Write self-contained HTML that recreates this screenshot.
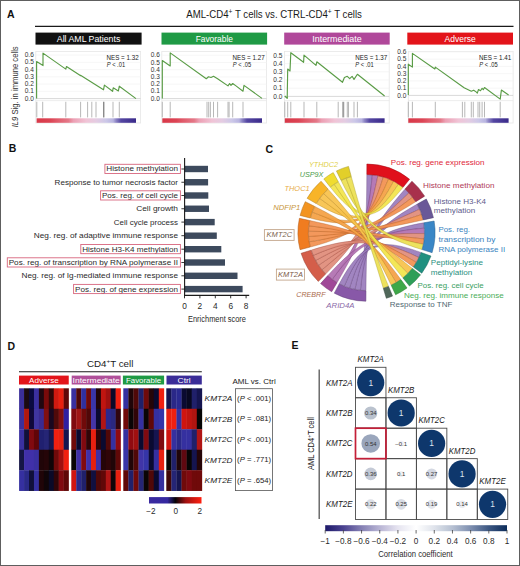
<!DOCTYPE html><html><head><meta charset="utf-8"><style>html,body{margin:0;padding:0;background:#fff;width:520px;height:566px;overflow:hidden;}svg{display:block;}text{font-family:"Liberation Sans", sans-serif;}</style></head><body><svg width="520" height="566" viewBox="0 0 520 566" font-family="Liberation Sans, sans-serif"><rect x="0.5" y="0.5" width="519" height="565" fill="none" stroke="#5e5e5e" stroke-width="1"/>
<text x="7.00" y="17.90" font-size="10.5" fill="#111" text-anchor="start" font-weight="bold" >A</text>
<text x="8.70" y="152.00" font-size="10.5" fill="#111" text-anchor="start" font-weight="bold" >B</text>
<text x="265.40" y="152.50" font-size="10.5" fill="#111" text-anchor="start" font-weight="bold" >C</text>
<text x="7.40" y="349.50" font-size="10.5" fill="#111" text-anchor="start" font-weight="bold" >D</text>
<text x="291.40" y="349.30" font-size="10.5" fill="#111" text-anchor="start" font-weight="bold" >E</text>
<text x="186.30" y="17.80" font-size="10.2" fill="#1a1a1a" text-anchor="start" textLength="175.60" lengthAdjust="spacingAndGlyphs" >AML-CD4<tspan font-size="7" dy="-4">+</tspan><tspan dy="4"> T cells vs. CTRL-CD4</tspan><tspan font-size="7" dy="-4">+</tspan><tspan dy="4"> T cells</tspan></text>
<line x1="35" y1="26.3" x2="513.5" y2="26.3" stroke="#1a1a1a" stroke-width="1.3"/>
<rect x="35.5" y="32.6" width="106.1" height="12" fill="#111111"/>
<text x="88.55" y="41.60" font-size="9.6" fill="#fff" text-anchor="middle" textLength="63.50" lengthAdjust="spacingAndGlyphs" >All AML Patients</text>
<rect x="161.5" y="32.6" width="105.6" height="12" fill="#1f9a45"/>
<text x="214.30" y="41.60" font-size="9.6" fill="#fff" text-anchor="middle" textLength="37.30" lengthAdjust="spacingAndGlyphs" >Favorable</text>
<rect x="284.2" y="32.6" width="105.5" height="12" fill="#b0489a"/>
<text x="336.95" y="41.60" font-size="9.6" fill="#fff" text-anchor="middle" textLength="49.40" lengthAdjust="spacingAndGlyphs" >Intermediate</text>
<rect x="407.3" y="32.6" width="105.7" height="12" fill="#e3141a"/>
<text x="460.15" y="41.60" font-size="9.6" fill="#fff" text-anchor="middle" textLength="31.20" lengthAdjust="spacingAndGlyphs" >Adverse</text>
<defs><linearGradient id="gcb" x1="0" x2="1" y1="0" y2="0"><stop offset="0" stop-color="#d83848"/><stop offset="0.14" stop-color="#dc4454"/><stop offset="0.2" stop-color="#e05868"/><stop offset="0.32" stop-color="#e47888"/><stop offset="0.37" stop-color="#eca0b4"/><stop offset="0.5" stop-color="#f0c4d6"/><stop offset="0.6" stop-color="#e4cce2"/><stop offset="0.7" stop-color="#ccc8e8"/><stop offset="0.77" stop-color="#b8b4e0"/><stop offset="0.8" stop-color="#8c84c4"/><stop offset="0.85" stop-color="#5446a2"/><stop offset="1" stop-color="#3a2a8a"/></linearGradient></defs>
<rect x="35.8" y="51.5" width="104.8" height="71.5" fill="none" stroke="#e6e6e6" stroke-width="0.8"/>
<line x1="35.8" y1="98.60" x2="140.6" y2="98.60" stroke="#c8c8c8" stroke-width="0.7"/>
<text x="33.80" y="100.70" font-size="7.1" fill="#333" text-anchor="end" textLength="9.10" lengthAdjust="spacingAndGlyphs" >0.0</text>
<line x1="35.8" y1="91.35" x2="140.6" y2="91.35" stroke="#f2f2f2" stroke-width="0.7"/>
<text x="33.80" y="93.45" font-size="7.1" fill="#333" text-anchor="end" textLength="9.10" lengthAdjust="spacingAndGlyphs" >0.1</text>
<line x1="35.8" y1="84.10" x2="140.6" y2="84.10" stroke="#f2f2f2" stroke-width="0.7"/>
<text x="33.80" y="86.20" font-size="7.1" fill="#333" text-anchor="end" textLength="9.10" lengthAdjust="spacingAndGlyphs" >0.2</text>
<line x1="35.8" y1="76.85" x2="140.6" y2="76.85" stroke="#f2f2f2" stroke-width="0.7"/>
<text x="33.80" y="78.95" font-size="7.1" fill="#333" text-anchor="end" textLength="9.10" lengthAdjust="spacingAndGlyphs" >0.3</text>
<line x1="35.8" y1="69.60" x2="140.6" y2="69.60" stroke="#f2f2f2" stroke-width="0.7"/>
<text x="33.80" y="71.70" font-size="7.1" fill="#333" text-anchor="end" textLength="9.10" lengthAdjust="spacingAndGlyphs" >0.4</text>
<line x1="35.8" y1="62.35" x2="140.6" y2="62.35" stroke="#f2f2f2" stroke-width="0.7"/>
<text x="33.80" y="64.45" font-size="7.1" fill="#333" text-anchor="end" textLength="9.10" lengthAdjust="spacingAndGlyphs" >0.5</text>
<line x1="35.8" y1="55.10" x2="140.6" y2="55.10" stroke="#f2f2f2" stroke-width="0.7"/>
<text x="33.80" y="57.20" font-size="7.1" fill="#333" text-anchor="end" textLength="9.10" lengthAdjust="spacingAndGlyphs" >0.6</text>
<line x1="35.8" y1="100.6" x2="140.6" y2="100.6" stroke="#e6e6e6" stroke-width="0.7"/>
<line x1="36.8" y1="101.8" x2="36.8" y2="117.4" stroke="#9a9a9a" stroke-width="0.7"/>
<line x1="42.7" y1="101.8" x2="42.7" y2="117.4" stroke="#9a9a9a" stroke-width="0.7"/>
<line x1="65.8" y1="101.8" x2="65.8" y2="117.4" stroke="#9a9a9a" stroke-width="0.7"/>
<line x1="80.6" y1="101.8" x2="80.6" y2="117.4" stroke="#9a9a9a" stroke-width="0.7"/>
<line x1="87.6" y1="101.8" x2="87.6" y2="117.4" stroke="#9a9a9a" stroke-width="0.7"/>
<line x1="91.8" y1="101.8" x2="91.8" y2="117.4" stroke="#9a9a9a" stroke-width="0.7"/>
<line x1="96" y1="101.8" x2="96" y2="117.4" stroke="#9a9a9a" stroke-width="0.7"/>
<line x1="103.5" y1="101.8" x2="103.5" y2="117.4" stroke="#555" stroke-width="0.7"/>
<line x1="104.2" y1="101.8" x2="104.2" y2="117.4" stroke="#9a9a9a" stroke-width="0.7"/>
<line x1="113" y1="101.8" x2="113" y2="117.4" stroke="#9a9a9a" stroke-width="0.7"/>
<line x1="119.3" y1="101.8" x2="119.3" y2="117.4" stroke="#9a9a9a" stroke-width="0.7"/>
<rect x="36.6" y="118.3" width="99.4" height="4.5" fill="url(#gcb)"/>
<path d="M36.60,98.50 L36.60,61.60 L43.00,65.60 L43.00,53.10 L65.80,69.10 L66.50,66.50 L80.30,75.60 L80.90,75.40 L103.50,89.80 L104.40,85.10 L112.60,91.30 L113.20,87.80 L118.40,90.90 L119.30,86.20 L136.00,98.60" fill="none" stroke="#5a9c46" stroke-width="1.15" stroke-linejoin="round"/>
<text x="106.60" y="59.50" font-size="6.9" fill="#222" text-anchor="start" textLength="32.00" lengthAdjust="spacingAndGlyphs" >NES = 1.32</text>
<text x="106.70" y="67.10" font-size="7.0" fill="#222" text-anchor="start" textLength="18.40" lengthAdjust="spacingAndGlyphs" ><tspan font-style="italic">P</tspan> &lt; .01</text>
<rect x="161.8" y="51.5" width="104.8" height="71.5" fill="none" stroke="#e6e6e6" stroke-width="0.8"/>
<line x1="161.8" y1="98.60" x2="266.6" y2="98.60" stroke="#c8c8c8" stroke-width="0.7"/>
<text x="159.80" y="100.70" font-size="7.1" fill="#333" text-anchor="end" textLength="9.10" lengthAdjust="spacingAndGlyphs" >0.0</text>
<line x1="161.8" y1="91.38" x2="266.6" y2="91.38" stroke="#f2f2f2" stroke-width="0.7"/>
<text x="159.80" y="93.48" font-size="7.1" fill="#333" text-anchor="end" textLength="9.10" lengthAdjust="spacingAndGlyphs" >0.1</text>
<line x1="161.8" y1="84.16" x2="266.6" y2="84.16" stroke="#f2f2f2" stroke-width="0.7"/>
<text x="159.80" y="86.26" font-size="7.1" fill="#333" text-anchor="end" textLength="9.10" lengthAdjust="spacingAndGlyphs" >0.2</text>
<line x1="161.8" y1="76.94" x2="266.6" y2="76.94" stroke="#f2f2f2" stroke-width="0.7"/>
<text x="159.80" y="79.04" font-size="7.1" fill="#333" text-anchor="end" textLength="9.10" lengthAdjust="spacingAndGlyphs" >0.3</text>
<line x1="161.8" y1="69.72" x2="266.6" y2="69.72" stroke="#f2f2f2" stroke-width="0.7"/>
<text x="159.80" y="71.82" font-size="7.1" fill="#333" text-anchor="end" textLength="9.10" lengthAdjust="spacingAndGlyphs" >0.4</text>
<line x1="161.8" y1="62.50" x2="266.6" y2="62.50" stroke="#f2f2f2" stroke-width="0.7"/>
<text x="159.80" y="64.60" font-size="7.1" fill="#333" text-anchor="end" textLength="9.10" lengthAdjust="spacingAndGlyphs" >0.5</text>
<line x1="161.8" y1="55.28" x2="266.6" y2="55.28" stroke="#f2f2f2" stroke-width="0.7"/>
<text x="159.80" y="57.38" font-size="7.1" fill="#333" text-anchor="end" textLength="9.10" lengthAdjust="spacingAndGlyphs" >0.6</text>
<line x1="161.8" y1="100.6" x2="266.6" y2="100.6" stroke="#e6e6e6" stroke-width="0.7"/>
<line x1="162.3" y1="101.8" x2="162.3" y2="117.4" stroke="#9a9a9a" stroke-width="0.7"/>
<line x1="170.2" y1="101.8" x2="170.2" y2="117.4" stroke="#9a9a9a" stroke-width="0.7"/>
<line x1="207" y1="101.8" x2="207" y2="117.4" stroke="#9a9a9a" stroke-width="0.7"/>
<line x1="208.7" y1="101.8" x2="208.7" y2="117.4" stroke="#9a9a9a" stroke-width="0.7"/>
<line x1="210.4" y1="101.8" x2="210.4" y2="117.4" stroke="#9a9a9a" stroke-width="0.7"/>
<line x1="213.5" y1="101.8" x2="213.5" y2="117.4" stroke="#9a9a9a" stroke-width="0.7"/>
<line x1="217.6" y1="101.8" x2="217.6" y2="117.4" stroke="#9a9a9a" stroke-width="0.7"/>
<line x1="228" y1="101.8" x2="228" y2="117.4" stroke="#9a9a9a" stroke-width="0.7"/>
<line x1="229.1" y1="101.8" x2="229.1" y2="117.4" stroke="#9a9a9a" stroke-width="0.7"/>
<line x1="232.7" y1="101.8" x2="232.7" y2="117.4" stroke="#9a9a9a" stroke-width="0.7"/>
<line x1="243" y1="101.8" x2="243" y2="117.4" stroke="#9a9a9a" stroke-width="0.7"/>
<rect x="162.3" y="118.3" width="99.7" height="4.5" fill="url(#gcb)"/>
<path d="M162.30,98.40 L162.30,60.60 L170.20,65.90 L170.20,52.90 L206.30,78.70 L208.50,76.80 L211.00,77.50 L213.50,76.30 L217.60,78.70 L228.00,85.90 L229.60,83.50 L231.00,85.40 L232.70,83.50 L236.00,85.90 L243.00,91.20 L244.00,85.40 L262.00,98.40" fill="none" stroke="#5a9c46" stroke-width="1.15" stroke-linejoin="round"/>
<text x="232.60" y="59.50" font-size="6.9" fill="#222" text-anchor="start" textLength="32.00" lengthAdjust="spacingAndGlyphs" >NES = 1.27</text>
<text x="232.70" y="67.10" font-size="7.0" fill="#222" text-anchor="start" textLength="18.40" lengthAdjust="spacingAndGlyphs" ><tspan font-style="italic">P</tspan> &lt; .05</text>
<rect x="284.4" y="51.5" width="104.8" height="71.5" fill="none" stroke="#e6e6e6" stroke-width="0.8"/>
<line x1="284.4" y1="96.40" x2="389.2" y2="96.40" stroke="#c8c8c8" stroke-width="0.7"/>
<text x="282.40" y="98.50" font-size="7.1" fill="#333" text-anchor="end" textLength="9.10" lengthAdjust="spacingAndGlyphs" >0.0</text>
<line x1="284.4" y1="88.20" x2="389.2" y2="88.20" stroke="#f2f2f2" stroke-width="0.7"/>
<text x="282.40" y="90.30" font-size="7.1" fill="#333" text-anchor="end" textLength="9.10" lengthAdjust="spacingAndGlyphs" >0.1</text>
<line x1="284.4" y1="80.00" x2="389.2" y2="80.00" stroke="#f2f2f2" stroke-width="0.7"/>
<text x="282.40" y="82.10" font-size="7.1" fill="#333" text-anchor="end" textLength="9.10" lengthAdjust="spacingAndGlyphs" >0.2</text>
<line x1="284.4" y1="71.80" x2="389.2" y2="71.80" stroke="#f2f2f2" stroke-width="0.7"/>
<text x="282.40" y="73.90" font-size="7.1" fill="#333" text-anchor="end" textLength="9.10" lengthAdjust="spacingAndGlyphs" >0.3</text>
<line x1="284.4" y1="63.60" x2="389.2" y2="63.60" stroke="#f2f2f2" stroke-width="0.7"/>
<text x="282.40" y="65.70" font-size="7.1" fill="#333" text-anchor="end" textLength="9.10" lengthAdjust="spacingAndGlyphs" >0.4</text>
<line x1="284.4" y1="55.40" x2="389.2" y2="55.40" stroke="#f2f2f2" stroke-width="0.7"/>
<text x="282.40" y="57.50" font-size="7.1" fill="#333" text-anchor="end" textLength="9.10" lengthAdjust="spacingAndGlyphs" >0.5</text>
<line x1="284.4" y1="100.6" x2="389.2" y2="100.6" stroke="#e6e6e6" stroke-width="0.7"/>
<line x1="284.8" y1="101.8" x2="284.8" y2="117.4" stroke="#9a9a9a" stroke-width="0.7"/>
<line x1="287.7" y1="101.8" x2="287.7" y2="117.4" stroke="#9a9a9a" stroke-width="0.7"/>
<line x1="290.8" y1="101.8" x2="290.8" y2="117.4" stroke="#9a9a9a" stroke-width="0.7"/>
<line x1="304" y1="101.8" x2="304" y2="117.4" stroke="#9a9a9a" stroke-width="0.7"/>
<line x1="316.8" y1="101.8" x2="316.8" y2="117.4" stroke="#9a9a9a" stroke-width="0.7"/>
<line x1="338.2" y1="101.8" x2="338.2" y2="117.4" stroke="#9a9a9a" stroke-width="0.7"/>
<line x1="342.5" y1="101.8" x2="342.5" y2="117.4" stroke="#9a9a9a" stroke-width="0.7"/>
<line x1="343.7" y1="101.8" x2="343.7" y2="117.4" stroke="#555" stroke-width="0.7"/>
<line x1="347.3" y1="101.8" x2="347.3" y2="117.4" stroke="#9a9a9a" stroke-width="0.7"/>
<line x1="348.5" y1="101.8" x2="348.5" y2="117.4" stroke="#9a9a9a" stroke-width="0.7"/>
<line x1="354" y1="101.8" x2="354" y2="117.4" stroke="#9a9a9a" stroke-width="0.7"/>
<line x1="357.4" y1="101.8" x2="357.4" y2="117.4" stroke="#9a9a9a" stroke-width="0.7"/>
<rect x="284.8" y="118.3" width="99.8" height="4.5" fill="url(#gcb)"/>
<path d="M284.80,96.00 L287.20,98.40 L287.70,69.00 L290.00,71.00 L290.80,52.70 L303.60,62.30 L304.00,55.10 L316.00,65.40 L316.80,61.80 L342.50,82.30 L344.40,77.50 L347.30,76.30 L349.70,78.70 L352.10,76.30 L354.00,79.40 L357.40,74.30 L384.60,96.00" fill="none" stroke="#5a9c46" stroke-width="1.15" stroke-linejoin="round"/>
<text x="355.20" y="59.50" font-size="6.9" fill="#222" text-anchor="start" textLength="32.00" lengthAdjust="spacingAndGlyphs" >NES = 1.37</text>
<text x="355.30" y="67.10" font-size="7.0" fill="#222" text-anchor="start" textLength="18.40" lengthAdjust="spacingAndGlyphs" ><tspan font-style="italic">P</tspan> &lt; .01</text>
<rect x="408.3" y="51.5" width="104.8" height="71.5" fill="none" stroke="#e6e6e6" stroke-width="0.8"/>
<line x1="408.3" y1="95.40" x2="513.1" y2="95.40" stroke="#c8c8c8" stroke-width="0.7"/>
<text x="406.30" y="97.50" font-size="7.1" fill="#333" text-anchor="end" textLength="9.10" lengthAdjust="spacingAndGlyphs" >0.0</text>
<line x1="408.3" y1="88.15" x2="513.1" y2="88.15" stroke="#f2f2f2" stroke-width="0.7"/>
<text x="406.30" y="90.25" font-size="7.1" fill="#333" text-anchor="end" textLength="9.10" lengthAdjust="spacingAndGlyphs" >0.1</text>
<line x1="408.3" y1="80.90" x2="513.1" y2="80.90" stroke="#f2f2f2" stroke-width="0.7"/>
<text x="406.30" y="83.00" font-size="7.1" fill="#333" text-anchor="end" textLength="9.10" lengthAdjust="spacingAndGlyphs" >0.2</text>
<line x1="408.3" y1="73.65" x2="513.1" y2="73.65" stroke="#f2f2f2" stroke-width="0.7"/>
<text x="406.30" y="75.75" font-size="7.1" fill="#333" text-anchor="end" textLength="9.10" lengthAdjust="spacingAndGlyphs" >0.3</text>
<line x1="408.3" y1="66.40" x2="513.1" y2="66.40" stroke="#f2f2f2" stroke-width="0.7"/>
<text x="406.30" y="68.50" font-size="7.1" fill="#333" text-anchor="end" textLength="9.10" lengthAdjust="spacingAndGlyphs" >0.4</text>
<line x1="408.3" y1="59.15" x2="513.1" y2="59.15" stroke="#f2f2f2" stroke-width="0.7"/>
<text x="406.30" y="61.25" font-size="7.1" fill="#333" text-anchor="end" textLength="9.10" lengthAdjust="spacingAndGlyphs" >0.5</text>
<line x1="408.3" y1="51.90" x2="513.1" y2="51.90" stroke="#f2f2f2" stroke-width="0.7"/>
<text x="406.30" y="54.00" font-size="7.1" fill="#333" text-anchor="end" textLength="9.10" lengthAdjust="spacingAndGlyphs" >0.6</text>
<line x1="408.3" y1="100.6" x2="513.1" y2="100.6" stroke="#e6e6e6" stroke-width="0.7"/>
<line x1="408.3" y1="101.8" x2="408.3" y2="117.4" stroke="#9a9a9a" stroke-width="0.7"/>
<line x1="412.4" y1="101.8" x2="412.4" y2="117.4" stroke="#9a9a9a" stroke-width="0.7"/>
<line x1="435.3" y1="101.8" x2="435.3" y2="117.4" stroke="#9a9a9a" stroke-width="0.7"/>
<line x1="462.4" y1="101.8" x2="462.4" y2="117.4" stroke="#9a9a9a" stroke-width="0.7"/>
<line x1="464.8" y1="101.8" x2="464.8" y2="117.4" stroke="#9a9a9a" stroke-width="0.7"/>
<line x1="471.3" y1="101.8" x2="471.3" y2="117.4" stroke="#9a9a9a" stroke-width="0.7"/>
<line x1="473.3" y1="101.8" x2="473.3" y2="117.4" stroke="#9a9a9a" stroke-width="0.7"/>
<line x1="478" y1="101.8" x2="478" y2="117.4" stroke="#9a9a9a" stroke-width="0.7"/>
<line x1="479.7" y1="101.8" x2="479.7" y2="117.4" stroke="#9a9a9a" stroke-width="0.7"/>
<line x1="482.1" y1="101.8" x2="482.1" y2="117.4" stroke="#9a9a9a" stroke-width="0.7"/>
<line x1="484.5" y1="101.8" x2="484.5" y2="117.4" stroke="#9a9a9a" stroke-width="0.7"/>
<line x1="500.2" y1="101.8" x2="500.2" y2="117.4" stroke="#9a9a9a" stroke-width="0.7"/>
<rect x="408.3" y="118.3" width="100.3" height="4.5" fill="url(#gcb)"/>
<path d="M408.30,95.00 L408.30,64.20 L412.40,67.10 L412.40,53.40 L434.80,69.00 L435.30,67.10 L464.10,87.80 L471.30,91.20 L473.70,90.20 L476.10,91.90 L477.30,93.10 L478.50,89.50 L480.50,90.70 L482.10,88.30 L483.30,89.70 L484.50,87.50 L500.20,99.10 L501.40,90.00 L508.60,95.00" fill="none" stroke="#5a9c46" stroke-width="1.15" stroke-linejoin="round"/>
<text x="479.10" y="59.50" font-size="6.9" fill="#222" text-anchor="start" textLength="32.00" lengthAdjust="spacingAndGlyphs" >NES = 1.41</text>
<text x="479.20" y="67.10" font-size="7.0" fill="#222" text-anchor="start" textLength="18.40" lengthAdjust="spacingAndGlyphs" ><tspan font-style="italic">P</tspan> &lt; .05</text>
<text transform="translate(18.4,86.8) rotate(-90)" font-size="8.2" fill="#333" text-anchor="middle" textLength="81" lengthAdjust="spacingAndGlyphs"><tspan font-style="italic">IL9</tspan> Sig. in immune cells</text>
<rect x="184.6" y="165.8" width="23.40" height="6.4" fill="#3d4a5d"/>
<line x1="181.4" y1="169.00" x2="184.6" y2="169.00" stroke="#222" stroke-width="0.9"/>
<text x="178.00" y="171.40" font-size="7.8" fill="#2a2a2a" text-anchor="end" textLength="71.70" lengthAdjust="spacingAndGlyphs" >Histone methylation</text>
<rect x="104.90" y="164.30" width="75.50" height="9.2" fill="none" stroke="#d8667e" stroke-width="0.9"/>
<rect x="184.6" y="179.05" width="23.50" height="6.4" fill="#3d4a5d"/>
<line x1="181.4" y1="182.25" x2="184.6" y2="182.25" stroke="#222" stroke-width="0.9"/>
<text x="178.00" y="184.65" font-size="7.8" fill="#2a2a2a" text-anchor="end" textLength="123.40" lengthAdjust="spacingAndGlyphs" >Response to tumor necrosis factor</text>
<rect x="184.6" y="192.3" width="23.70" height="6.4" fill="#3d4a5d"/>
<line x1="181.4" y1="195.50" x2="184.6" y2="195.50" stroke="#222" stroke-width="0.9"/>
<text x="178.00" y="197.90" font-size="7.8" fill="#2a2a2a" text-anchor="end" textLength="76.00" lengthAdjust="spacingAndGlyphs" >Pos. reg. of cell cycle</text>
<rect x="100.60" y="190.80" width="79.80" height="9.2" fill="none" stroke="#d8667e" stroke-width="0.9"/>
<rect x="184.6" y="205.55" width="24.40" height="6.4" fill="#3d4a5d"/>
<line x1="181.4" y1="208.75" x2="184.6" y2="208.75" stroke="#222" stroke-width="0.9"/>
<text x="178.00" y="211.15" font-size="7.8" fill="#2a2a2a" text-anchor="end" textLength="41.80" lengthAdjust="spacingAndGlyphs" >Cell growth</text>
<rect x="184.6" y="218.9" width="30.10" height="6.4" fill="#3d4a5d"/>
<line x1="181.4" y1="222.10" x2="184.6" y2="222.10" stroke="#222" stroke-width="0.9"/>
<text x="178.00" y="224.50" font-size="7.8" fill="#2a2a2a" text-anchor="end" textLength="64.20" lengthAdjust="spacingAndGlyphs" >Cell cycle process</text>
<rect x="184.6" y="232.5" width="32.20" height="6.4" fill="#3d4a5d"/>
<line x1="181.4" y1="235.70" x2="184.6" y2="235.70" stroke="#222" stroke-width="0.9"/>
<text x="178.00" y="238.10" font-size="7.8" fill="#2a2a2a" text-anchor="end" textLength="144.20" lengthAdjust="spacingAndGlyphs" >Neg. reg. of adaptive immune response</text>
<rect x="184.6" y="246.0" width="36.70" height="6.4" fill="#3d4a5d"/>
<line x1="181.4" y1="249.20" x2="184.6" y2="249.20" stroke="#222" stroke-width="0.9"/>
<text x="178.00" y="251.60" font-size="7.8" fill="#2a2a2a" text-anchor="end" textLength="95.80" lengthAdjust="spacingAndGlyphs" >Histone H3-K4 methylation</text>
<rect x="80.80" y="244.50" width="99.60" height="9.2" fill="none" stroke="#d8667e" stroke-width="0.9"/>
<rect x="184.6" y="259.3" width="40.40" height="6.4" fill="#3d4a5d"/>
<line x1="181.4" y1="262.50" x2="184.6" y2="262.50" stroke="#222" stroke-width="0.9"/>
<text x="178.00" y="264.90" font-size="7.8" fill="#2a2a2a" text-anchor="end" textLength="169.30" lengthAdjust="spacingAndGlyphs" >Pos. reg. of transcription by RNA polymerase II</text>
<rect x="7.30" y="257.80" width="173.10" height="9.2" fill="none" stroke="#d8667e" stroke-width="0.9"/>
<rect x="184.6" y="272.6" width="52.90" height="6.4" fill="#3d4a5d"/>
<line x1="181.4" y1="275.80" x2="184.6" y2="275.80" stroke="#222" stroke-width="0.9"/>
<text x="178.00" y="278.20" font-size="7.8" fill="#2a2a2a" text-anchor="end" textLength="156.50" lengthAdjust="spacingAndGlyphs" >Neg. reg. of Ig-mediated immune response</text>
<rect x="184.6" y="285.9" width="58.00" height="6.4" fill="#3d4a5d"/>
<line x1="181.4" y1="289.10" x2="184.6" y2="289.10" stroke="#222" stroke-width="0.9"/>
<text x="178.00" y="291.50" font-size="7.8" fill="#2a2a2a" text-anchor="end" textLength="103.00" lengthAdjust="spacingAndGlyphs" >Pos. reg. of gene expression</text>
<rect x="73.60" y="284.40" width="106.80" height="9.2" fill="none" stroke="#d8667e" stroke-width="0.9"/>
<line x1="184.6" y1="158" x2="184.6" y2="296" stroke="#1a1a1a" stroke-width="1.1"/>
<line x1="184.6" y1="295.4" x2="249.2" y2="295.4" stroke="#1a1a1a" stroke-width="1.1"/>
<line x1="184.5" y1="295.4" x2="184.5" y2="298.3" stroke="#1a1a1a" stroke-width="0.9"/>
<text x="184.50" y="308.80" font-size="8.3" fill="#2a2a2a" text-anchor="middle" >0</text>
<line x1="199.9" y1="295.4" x2="199.9" y2="298.3" stroke="#1a1a1a" stroke-width="0.9"/>
<text x="199.90" y="308.80" font-size="8.3" fill="#2a2a2a" text-anchor="middle" >2</text>
<line x1="215.3" y1="295.4" x2="215.3" y2="298.3" stroke="#1a1a1a" stroke-width="0.9"/>
<text x="215.30" y="308.80" font-size="8.3" fill="#2a2a2a" text-anchor="middle" >4</text>
<line x1="230.7" y1="295.4" x2="230.7" y2="298.3" stroke="#1a1a1a" stroke-width="0.9"/>
<text x="230.70" y="308.80" font-size="8.3" fill="#2a2a2a" text-anchor="middle" >6</text>
<line x1="246.1" y1="295.4" x2="246.1" y2="298.3" stroke="#1a1a1a" stroke-width="0.9"/>
<text x="246.10" y="308.80" font-size="8.3" fill="#2a2a2a" text-anchor="middle" >8</text>
<text x="217.00" y="321.80" font-size="8.3" fill="#2a2a2a" text-anchor="middle" textLength="58.00" lengthAdjust="spacingAndGlyphs" >Enrichment score</text>
<path d="M365.99,290.50 A57.90,57.90 0 0 1 360.45,290.18 C365.29,244.12 366.56,221.02 366.80,174.70 A57.90,57.90 0 0 1 372.37,175.00 C367.67,221.08 366.40,244.18 365.99,290.50 Z" fill="#9a7cbc" fill-opacity="0.93" stroke="#5c3b72" stroke-width="0.4" stroke-opacity="0.85"/>
<path d="M360.45,290.18 A57.90,57.90 0 0 1 354.96,289.34 C364.19,243.95 374.17,223.93 404.87,189.24 A57.90,57.90 0 0 1 408.82,193.09 C374.96,224.70 365.29,244.12 360.45,290.18 Z" fill="#9a7cbc" fill-opacity="0.93" stroke="#5c3b72" stroke-width="0.4" stroke-opacity="0.85"/>
<path d="M354.96,289.34 A57.90,57.90 0 0 1 349.57,287.97 C363.11,243.67 376.60,226.93 416.99,204.26 A57.90,57.90 0 0 1 419.50,209.30 C377.10,227.94 364.19,243.95 354.96,289.34 Z" fill="#9a7cbc" fill-opacity="0.93" stroke="#5c3b72" stroke-width="0.4" stroke-opacity="0.85"/>
<path d="M349.57,287.97 A57.90,57.90 0 0 1 344.34,286.09 C362.07,243.30 377.91,230.65 423.57,222.84 A57.90,57.90 0 0 1 424.23,228.20 C378.05,231.72 363.11,243.67 349.57,287.97 Z" fill="#9a7cbc" fill-opacity="0.93" stroke="#5c3b72" stroke-width="0.4" stroke-opacity="0.85"/>
<path d="M344.34,286.09 A57.90,57.90 0 0 1 339.32,283.72 C361.06,242.82 377.38,236.56 420.91,252.40 A57.90,57.90 0 0 1 418.79,257.47 C376.96,237.57 362.07,243.30 344.34,286.09 Z" fill="#9a7cbc" fill-opacity="0.93" stroke="#5c3b72" stroke-width="0.4" stroke-opacity="0.85"/>
<path d="M337.11,282.49 A57.90,57.90 0 0 1 332.26,279.29 C359.65,241.94 367.67,221.08 372.37,175.00 A57.90,57.90 0 0 1 377.87,175.83 C368.77,221.25 360.62,242.58 337.11,282.49 Z" fill="#b070b0" fill-opacity="0.93" stroke="#6c3067" stroke-width="0.4" stroke-opacity="0.85"/>
<path d="M332.26,279.29 A57.90,57.90 0 0 1 327.76,275.63 C358.75,241.21 378.05,231.72 424.23,228.20 A57.90,57.90 0 0 1 424.39,233.59 C378.08,232.80 359.65,241.94 332.26,279.29 Z" fill="#b070b0" fill-opacity="0.93" stroke="#6c3067" stroke-width="0.4" stroke-opacity="0.85"/>
<path d="M325.85,273.83 A57.90,57.90 0 0 1 322.04,269.69 C357.61,240.02 368.77,221.25 377.87,175.83 A57.90,57.90 0 0 1 383.28,177.18 C369.86,221.52 358.37,240.85 325.85,273.83 Z" fill="#e08c7a" fill-opacity="0.93" stroke="#903f32" stroke-width="0.4" stroke-opacity="0.85"/>
<path d="M322.04,269.69 A57.90,57.90 0 0 1 318.66,265.21 C356.93,239.12 374.96,224.70 408.82,193.09 A57.90,57.90 0 0 1 412.39,197.30 C375.68,225.54 357.61,240.02 322.04,269.69 Z" fill="#e08c7a" fill-opacity="0.93" stroke="#903f32" stroke-width="0.4" stroke-opacity="0.85"/>
<path d="M318.66,265.21 A57.90,57.90 0 0 1 315.72,260.42 C356.34,238.16 377.10,227.94 419.50,209.30 A57.90,57.90 0 0 1 421.51,214.55 C377.50,228.99 356.93,239.12 318.66,265.21 Z" fill="#e08c7a" fill-opacity="0.93" stroke="#903f32" stroke-width="0.4" stroke-opacity="0.85"/>
<path d="M315.72,260.42 A57.90,57.90 0 0 1 313.27,255.37 C355.85,237.15 378.08,232.80 424.39,233.59 A57.90,57.90 0 0 1 424.05,238.97 C378.01,233.87 356.34,238.16 315.72,260.42 Z" fill="#e08c7a" fill-opacity="0.93" stroke="#903f32" stroke-width="0.4" stroke-opacity="0.85"/>
<path d="M313.27,255.37 A57.90,57.90 0 0 1 311.31,250.11 C355.46,236.10 376.96,237.57 418.79,257.47 A57.90,57.90 0 0 1 416.20,262.31 C376.44,238.54 355.85,237.15 313.27,255.37 Z" fill="#e08c7a" fill-opacity="0.93" stroke="#903f32" stroke-width="0.4" stroke-opacity="0.85"/>
<path d="M310.42,247.00 A57.90,57.90 0 0 1 309.33,241.78 C355.07,234.44 369.86,221.52 383.28,177.18 A57.90,57.90 0 0 1 388.52,179.05 C370.90,221.89 355.28,235.48 310.42,247.00 Z" fill="#f29050" fill-opacity="0.93" stroke="#a35415" stroke-width="0.4" stroke-opacity="0.85"/>
<path d="M309.33,241.78 A57.90,57.90 0 0 1 308.73,236.48 C354.95,233.38 375.68,225.54 412.39,197.30 A57.90,57.90 0 0 1 415.55,201.83 C376.31,226.45 355.07,234.44 309.33,241.78 Z" fill="#f29050" fill-opacity="0.93" stroke="#a35415" stroke-width="0.4" stroke-opacity="0.85"/>
<path d="M308.73,236.48 A57.90,57.90 0 0 1 308.62,231.14 C354.92,232.31 377.50,228.99 421.51,214.55 A57.90,57.90 0 0 1 423.01,219.97 C377.80,230.07 354.95,233.38 308.73,236.48 Z" fill="#f29050" fill-opacity="0.93" stroke="#a35415" stroke-width="0.4" stroke-opacity="0.85"/>
<path d="M308.62,231.14 A57.90,57.90 0 0 1 309.00,225.82 C355.00,231.24 378.01,233.87 424.05,238.97 A57.90,57.90 0 0 1 423.21,244.30 C377.84,234.94 354.92,232.31 308.62,231.14 Z" fill="#f29050" fill-opacity="0.93" stroke="#a35415" stroke-width="0.4" stroke-opacity="0.85"/>
<path d="M309.00,225.82 A57.90,57.90 0 0 1 309.87,220.56 C355.17,230.19 376.44,238.54 416.20,262.31 A57.90,57.90 0 0 1 413.16,266.88 C375.83,239.46 355.00,231.24 309.00,225.82 Z" fill="#f29050" fill-opacity="0.93" stroke="#a35415" stroke-width="0.4" stroke-opacity="0.85"/>
<path d="M310.44,218.10 A57.90,57.90 0 0 1 312.32,212.18 C355.66,228.52 370.90,221.89 388.52,179.05 A57.90,57.90 0 0 1 393.57,181.42 C371.91,222.36 355.29,229.70 310.44,218.10 Z" fill="#f4a044" fill-opacity="0.93" stroke="#a56415" stroke-width="0.4" stroke-opacity="0.85"/>
<path d="M312.32,212.18 A57.90,57.90 0 0 1 314.82,206.49 C356.16,227.38 373.34,241.94 400.70,279.32 A57.90,57.90 0 0 1 396.02,282.41 C372.40,242.56 355.66,228.52 312.32,212.18 Z" fill="#f4a044" fill-opacity="0.93" stroke="#a56415" stroke-width="0.4" stroke-opacity="0.85"/>
<path d="M316.36,203.65 A57.90,57.90 0 0 1 319.76,198.43 C357.15,225.77 371.91,222.36 393.57,181.42 A57.90,57.90 0 0 1 398.36,184.25 C372.87,222.93 356.47,226.81 316.36,203.65 Z" fill="#f8c24a" fill-opacity="0.93" stroke="#a87a1b" stroke-width="0.4" stroke-opacity="0.85"/>
<path d="M319.76,198.43 A57.90,57.90 0 0 1 323.70,193.61 C357.94,224.80 375.63,239.73 412.13,268.25 A57.90,57.90 0 0 1 407.73,273.25 C374.75,240.73 357.15,225.77 319.76,198.43 Z" fill="#f8c24a" fill-opacity="0.93" stroke="#a87a1b" stroke-width="0.4" stroke-opacity="0.85"/>
<path d="M323.70,193.61 A57.90,57.90 0 0 1 328.13,189.24 C358.83,223.93 372.40,242.56 396.02,282.41 A57.90,57.90 0 0 1 391.06,285.03 C371.41,243.09 357.94,224.80 323.70,193.61 Z" fill="#f8c24a" fill-opacity="0.93" stroke="#a87a1b" stroke-width="0.4" stroke-opacity="0.85"/>
<path d="M330.46,187.29 A57.90,57.90 0 0 1 334.33,184.46 C360.07,222.97 372.87,222.93 398.36,184.25 A57.90,57.90 0 0 1 402.86,187.54 C373.77,223.59 359.29,223.54 330.46,187.29 Z" fill="#f2e44a" fill-opacity="0.93" stroke="#a39520" stroke-width="0.4" stroke-opacity="0.85"/>
<path d="M334.33,184.46 A57.90,57.90 0 0 1 338.43,181.96 C360.89,222.47 374.75,240.73 407.73,273.25 A57.90,57.90 0 0 1 402.78,277.72 C373.76,241.62 360.07,222.97 334.33,184.46 Z" fill="#f2e44a" fill-opacity="0.93" stroke="#a39520" stroke-width="0.4" stroke-opacity="0.85"/>
<path d="M341.12,180.56 A57.90,57.90 0 0 1 346.13,178.40 C362.43,221.76 377.84,234.94 423.21,244.30 A57.90,57.90 0 0 1 421.87,249.53 C377.57,235.99 361.42,222.19 341.12,180.56 Z" fill="#ece052" fill-opacity="0.93" stroke="#998c1c" stroke-width="0.4" stroke-opacity="0.85"/>
<path d="M346.13,178.40 A57.90,57.90 0 0 1 351.32,176.73 C363.46,221.43 370.89,243.31 388.47,286.17 A57.90,57.90 0 0 1 383.23,288.03 C369.85,243.69 362.43,221.76 346.13,178.40 Z" fill="#ece052" fill-opacity="0.93" stroke="#998c1c" stroke-width="0.4" stroke-opacity="0.85"/>
<path d="M365.90,301.20 A68.60,68.60 0 0 1 334.29,293.17 L339.18,283.99 A58.20,58.20 0 0 0 365.99,290.80 Z" fill="#8858a8" stroke="#613f78" stroke-width="0.5"/>
<path d="M331.68,291.71 A68.60,68.60 0 0 1 320.60,283.58 L327.56,275.85 A58.20,58.20 0 0 0 336.96,282.75 Z" fill="#a04898" stroke="#73336d" stroke-width="0.5"/>
<path d="M318.33,281.44 A68.60,68.60 0 0 1 301.11,253.34 L311.02,250.20 A58.20,58.20 0 0 0 325.63,274.04 Z" fill="#d45e4a" stroke="#984335" stroke-width="0.5"/>
<path d="M300.06,249.66 A68.60,68.60 0 0 1 299.40,218.34 L309.57,220.50 A58.20,58.20 0 0 0 310.13,247.07 Z" fill="#f07c20" stroke="#ac5917" stroke-width="0.5"/>
<path d="M300.09,215.42 A68.60,68.60 0 0 1 305.27,201.67 L314.55,206.36 A58.20,58.20 0 0 0 310.15,218.03 Z" fill="#f39420" stroke="#ae6a17" stroke-width="0.5"/>
<path d="M307.09,198.30 A68.60,68.60 0 0 1 321.04,181.22 L327.94,189.01 A58.20,58.20 0 0 0 316.10,203.50 Z" fill="#f8b428" stroke="#b2811c" stroke-width="0.5"/>
<path d="M323.80,178.91 A68.60,68.60 0 0 1 333.24,172.60 L338.28,181.70 A58.20,58.20 0 0 0 330.27,187.05 Z" fill="#f0dc30" stroke="#ac9e22" stroke-width="0.5"/>
<path d="M336.43,170.94 A68.60,68.60 0 0 1 348.51,166.40 L351.24,176.44 A58.20,58.20 0 0 0 340.99,180.29 Z" fill="#e2cf2a" stroke="#a2951e" stroke-width="0.5"/>
<path d="M366.86,164.00 A68.60,68.60 0 0 1 409.58,179.21 L403.05,187.31 A58.20,58.20 0 0 0 366.80,174.40 Z" fill="#e0101c" stroke="#a10b14" stroke-width="0.5"/>
<path d="M411.96,181.22 A68.60,68.60 0 0 1 424.61,196.15 L415.80,201.67 A58.20,58.20 0 0 0 405.06,189.01 Z" fill="#a8304c" stroke="#782236" stroke-width="0.5"/>
<path d="M426.32,199.03 A68.60,68.60 0 0 1 433.45,217.64 L423.30,219.90 A58.20,58.20 0 0 0 417.25,204.12 Z" fill="#6a5898" stroke="#4c3f6d" stroke-width="0.5"/>
<path d="M434.12,221.04 A68.60,68.60 0 0 1 432.10,252.66 L422.16,249.62 A58.20,58.20 0 0 0 423.87,222.79 Z" fill="#3a86c6" stroke="#29608e" stroke-width="0.5"/>
<path d="M430.96,256.06 A68.60,68.60 0 0 1 421.79,273.21 L413.41,267.06 A58.20,58.20 0 0 0 421.19,252.51 Z" fill="#1f9080" stroke="#16675c" stroke-width="0.5"/>
<path d="M420.56,274.83 A68.60,68.60 0 0 1 409.49,286.06 L402.97,277.96 A58.20,58.20 0 0 0 412.36,268.43 Z" fill="#2e9e58" stroke="#21713f" stroke-width="0.5"/>
<path d="M407.02,287.96 A68.60,68.60 0 0 1 395.60,294.72 L391.19,285.30 A58.20,58.20 0 0 0 400.87,279.57 Z" fill="#3ea848" stroke="#2c7833" stroke-width="0.5"/>
<path d="M392.53,296.07 A68.60,68.60 0 0 1 386.33,298.27 L383.32,288.32 A58.20,58.20 0 0 0 388.58,286.45 Z" fill="#50685a" stroke="#394a40" stroke-width="0.5"/>
<text x="309.00" y="166.60" font-size="8.1" fill="#e0cf48" text-anchor="start" font-style="italic" textLength="29.10" lengthAdjust="spacingAndGlyphs" >YTHDC2</text>
<text x="299.70" y="176.90" font-size="8.1" fill="#4a9a48" text-anchor="start" font-style="italic" textLength="23.70" lengthAdjust="spacingAndGlyphs" >USP9X</text>
<text x="284.50" y="190.80" font-size="8.1" fill="#e8ac48" text-anchor="start" font-style="italic" textLength="25.10" lengthAdjust="spacingAndGlyphs" >THOC1</text>
<text x="273.20" y="209.50" font-size="8.1" fill="#c8963c" text-anchor="start" font-style="italic" textLength="27.20" lengthAdjust="spacingAndGlyphs" >NDFIP1</text>
<text x="266.60" y="237.20" font-size="8.1" fill="#7c6450" text-anchor="start" font-style="italic" textLength="25.50" lengthAdjust="spacingAndGlyphs" >KMT2C</text>
<text x="278.00" y="276.90" font-size="8.1" fill="#7c5a48" text-anchor="start" font-style="italic" textLength="25.00" lengthAdjust="spacingAndGlyphs" >KMT2A</text>
<text x="296.30" y="296.70" font-size="8.1" fill="#aa6a4c" text-anchor="start" font-style="italic" textLength="29.20" lengthAdjust="spacingAndGlyphs" >CREBRF</text>
<text x="326.30" y="308.40" font-size="8.1" fill="#8c6aa8" text-anchor="start" font-style="italic" textLength="28.20" lengthAdjust="spacingAndGlyphs" >ARID4A</text>
<rect x="264.4" y="229.6" width="29.7" height="10.8" fill="none" stroke="#c4a68c" stroke-width="0.9"/>
<rect x="276.4" y="269.1" width="28.1" height="11.0" fill="none" stroke="#c4a68c" stroke-width="0.9"/>
<text x="390.80" y="165.10" font-size="8.1" fill="#e0283a" text-anchor="start" textLength="93.80" lengthAdjust="spacingAndGlyphs" >Pos. reg. gene expression</text>
<text x="423.00" y="188.40" font-size="8.1" fill="#b03a58" text-anchor="start" textLength="71.50" lengthAdjust="spacingAndGlyphs" >Histone methylation</text>
<text x="433.80" y="203.90" font-size="8.1" fill="#605c8c" text-anchor="start" textLength="52.20" lengthAdjust="spacingAndGlyphs" >Histone H3-K4</text>
<text x="433.80" y="213.10" font-size="8.1" fill="#605c8c" text-anchor="start" textLength="41.50" lengthAdjust="spacingAndGlyphs" >methylation</text>
<text x="438.50" y="232.40" font-size="8.1" fill="#3a84c0" text-anchor="start" textLength="31.50" lengthAdjust="spacingAndGlyphs" >Pos. reg.</text>
<text x="438.50" y="242.10" font-size="8.1" fill="#3a84c0" text-anchor="start" textLength="57.00" lengthAdjust="spacingAndGlyphs" >transcription by</text>
<text x="438.50" y="252.10" font-size="8.1" fill="#3a84c0" text-anchor="start" textLength="66.70" lengthAdjust="spacingAndGlyphs" >RNA polymerase II</text>
<text x="430.80" y="265.10" font-size="8.1" fill="#2a9080" text-anchor="start" textLength="52.20" lengthAdjust="spacingAndGlyphs" >Peptidyl-lysine</text>
<text x="430.80" y="275.20" font-size="8.1" fill="#2a9080" text-anchor="start" textLength="41.50" lengthAdjust="spacingAndGlyphs" >methylation</text>
<text x="417.50" y="287.50" font-size="8.1" fill="#3aa060" text-anchor="start" textLength="66.20" lengthAdjust="spacingAndGlyphs" >Pos. reg. cell cycle</text>
<text x="404.00" y="297.70" font-size="8.1" fill="#4aae58" text-anchor="start" textLength="99.70" lengthAdjust="spacingAndGlyphs" >Neg. reg. immune response</text>
<text x="389.80" y="306.60" font-size="8.1" fill="#506872" text-anchor="start" textLength="62.50" lengthAdjust="spacingAndGlyphs" >Response to TNF</text>
<rect x="19.10" y="388.30" width="5.20" height="20.73" fill="#3b2f9a"/>
<rect x="24.05" y="388.30" width="5.20" height="20.73" fill="#1a0a10"/>
<rect x="29.00" y="388.30" width="5.20" height="20.73" fill="#0a0a40"/>
<rect x="33.95" y="388.30" width="5.20" height="20.73" fill="#3b30a0"/>
<rect x="38.90" y="388.30" width="5.20" height="20.73" fill="#200810"/>
<rect x="43.85" y="388.30" width="5.20" height="20.73" fill="#7a0a0a"/>
<rect x="48.80" y="388.30" width="5.20" height="20.73" fill="#300808"/>
<rect x="53.75" y="388.30" width="5.20" height="20.73" fill="#d01a10"/>
<rect x="58.70" y="388.30" width="5.20" height="20.73" fill="#e82010"/>
<rect x="63.65" y="388.30" width="5.20" height="20.73" fill="#600808"/>
<rect x="19.10" y="408.78" width="5.20" height="20.73" fill="#3b2f9a"/>
<rect x="24.05" y="408.78" width="5.20" height="20.73" fill="#b01810"/>
<rect x="29.00" y="408.78" width="5.20" height="20.73" fill="#10083a"/>
<rect x="33.95" y="408.78" width="5.20" height="20.73" fill="#4035a0"/>
<rect x="38.90" y="408.78" width="5.20" height="20.73" fill="#3a2a90"/>
<rect x="43.85" y="408.78" width="5.20" height="20.73" fill="#801010"/>
<rect x="48.80" y="408.78" width="5.20" height="20.73" fill="#1a0820"/>
<rect x="53.75" y="408.78" width="5.20" height="20.73" fill="#500a0a"/>
<rect x="58.70" y="408.78" width="5.20" height="20.73" fill="#801010"/>
<rect x="63.65" y="408.78" width="5.20" height="20.73" fill="#3020a0"/>
<rect x="19.10" y="429.26" width="5.20" height="20.73" fill="#3a30a0"/>
<rect x="24.05" y="429.26" width="5.20" height="20.73" fill="#10103a"/>
<rect x="29.00" y="429.26" width="5.20" height="20.73" fill="#800a10"/>
<rect x="33.95" y="429.26" width="5.20" height="20.73" fill="#600508"/>
<rect x="38.90" y="429.26" width="5.20" height="20.73" fill="#202070"/>
<rect x="43.85" y="429.26" width="5.20" height="20.73" fill="#252575"/>
<rect x="48.80" y="429.26" width="5.20" height="20.73" fill="#181850"/>
<rect x="53.75" y="429.26" width="5.20" height="20.73" fill="#f02010"/>
<rect x="58.70" y="429.26" width="5.20" height="20.73" fill="#e82010"/>
<rect x="63.65" y="429.26" width="5.20" height="20.73" fill="#151550"/>
<rect x="19.10" y="449.74" width="5.20" height="20.73" fill="#151545"/>
<rect x="24.05" y="449.74" width="5.20" height="20.73" fill="#4030a8"/>
<rect x="29.00" y="449.74" width="5.20" height="20.73" fill="#4030a8"/>
<rect x="33.95" y="449.74" width="5.20" height="20.73" fill="#3a30a0"/>
<rect x="38.90" y="449.74" width="5.20" height="20.73" fill="#200508"/>
<rect x="43.85" y="449.74" width="5.20" height="20.73" fill="#250508"/>
<rect x="48.80" y="449.74" width="5.20" height="20.73" fill="#100508"/>
<rect x="53.75" y="449.74" width="5.20" height="20.73" fill="#700a0a"/>
<rect x="58.70" y="449.74" width="5.20" height="20.73" fill="#a01010"/>
<rect x="63.65" y="449.74" width="5.20" height="20.73" fill="#f02010"/>
<rect x="19.10" y="470.22" width="5.20" height="20.73" fill="#3530a0"/>
<rect x="24.05" y="470.22" width="5.20" height="20.73" fill="#2a2a88"/>
<rect x="29.00" y="470.22" width="5.20" height="20.73" fill="#10103a"/>
<rect x="33.95" y="470.22" width="5.20" height="20.73" fill="#3530a0"/>
<rect x="38.90" y="470.22" width="5.20" height="20.73" fill="#200508"/>
<rect x="43.85" y="470.22" width="5.20" height="20.73" fill="#100508"/>
<rect x="48.80" y="470.22" width="5.20" height="20.73" fill="#0a0a28"/>
<rect x="53.75" y="470.22" width="5.20" height="20.73" fill="#300508"/>
<rect x="58.70" y="470.22" width="5.20" height="20.73" fill="#800a10"/>
<rect x="63.65" y="470.22" width="5.20" height="20.73" fill="#600808"/>
<rect x="71.30" y="388.30" width="5.18" height="20.73" fill="#3a30a0"/>
<rect x="76.23" y="388.30" width="5.18" height="20.73" fill="#500808"/>
<rect x="81.16" y="388.30" width="5.18" height="20.73" fill="#3030a0"/>
<rect x="86.09" y="388.30" width="5.18" height="20.73" fill="#700a0a"/>
<rect x="91.02" y="388.30" width="5.18" height="20.73" fill="#3a35a8"/>
<rect x="95.95" y="388.30" width="5.18" height="20.73" fill="#200508"/>
<rect x="100.88" y="388.30" width="5.18" height="20.73" fill="#c01510"/>
<rect x="105.81" y="388.30" width="5.18" height="20.73" fill="#a01010"/>
<rect x="110.74" y="388.30" width="5.18" height="20.73" fill="#0a0828"/>
<rect x="115.67" y="388.30" width="5.18" height="20.73" fill="#f02010"/>
<rect x="71.30" y="408.78" width="5.18" height="20.73" fill="#800a10"/>
<rect x="76.23" y="408.78" width="5.18" height="20.73" fill="#a01515"/>
<rect x="81.16" y="408.78" width="5.18" height="20.73" fill="#700a0a"/>
<rect x="86.09" y="408.78" width="5.18" height="20.73" fill="#500808"/>
<rect x="91.02" y="408.78" width="5.18" height="20.73" fill="#4535a8"/>
<rect x="95.95" y="408.78" width="5.18" height="20.73" fill="#0a0a30"/>
<rect x="100.88" y="408.78" width="5.18" height="20.73" fill="#b01515"/>
<rect x="105.81" y="408.78" width="5.18" height="20.73" fill="#2a2890"/>
<rect x="110.74" y="408.78" width="5.18" height="20.73" fill="#2a2880"/>
<rect x="115.67" y="408.78" width="5.18" height="20.73" fill="#300510"/>
<rect x="71.30" y="429.26" width="5.18" height="20.73" fill="#700a0a"/>
<rect x="76.23" y="429.26" width="5.18" height="20.73" fill="#0a0a30"/>
<rect x="81.16" y="429.26" width="5.18" height="20.73" fill="#800a10"/>
<rect x="86.09" y="429.26" width="5.18" height="20.73" fill="#300508"/>
<rect x="91.02" y="429.26" width="5.18" height="20.73" fill="#e82010"/>
<rect x="95.95" y="429.26" width="5.18" height="20.73" fill="#300508"/>
<rect x="100.88" y="429.26" width="5.18" height="20.73" fill="#0a0a30"/>
<rect x="105.81" y="429.26" width="5.18" height="20.73" fill="#500808"/>
<rect x="110.74" y="429.26" width="5.18" height="20.73" fill="#3530a0"/>
<rect x="115.67" y="429.26" width="5.18" height="20.73" fill="#900a10"/>
<rect x="71.30" y="449.74" width="5.18" height="20.73" fill="#0a0505"/>
<rect x="76.23" y="449.74" width="5.18" height="20.73" fill="#4030a8"/>
<rect x="81.16" y="449.74" width="5.18" height="20.73" fill="#800a10"/>
<rect x="86.09" y="449.74" width="5.18" height="20.73" fill="#4030a8"/>
<rect x="91.02" y="449.74" width="5.18" height="20.73" fill="#e82010"/>
<rect x="95.95" y="449.74" width="5.18" height="20.73" fill="#4030a8"/>
<rect x="100.88" y="449.74" width="5.18" height="20.73" fill="#250508"/>
<rect x="105.81" y="449.74" width="5.18" height="20.73" fill="#300508"/>
<rect x="110.74" y="449.74" width="5.18" height="20.73" fill="#200508"/>
<rect x="115.67" y="449.74" width="5.18" height="20.73" fill="#600808"/>
<rect x="71.30" y="470.22" width="5.18" height="20.73" fill="#d01510"/>
<rect x="76.23" y="470.22" width="5.18" height="20.73" fill="#2a2888"/>
<rect x="81.16" y="470.22" width="5.18" height="20.73" fill="#20206a"/>
<rect x="86.09" y="470.22" width="5.18" height="20.73" fill="#200508"/>
<rect x="91.02" y="470.22" width="5.18" height="20.73" fill="#101040"/>
<rect x="95.95" y="470.22" width="5.18" height="20.73" fill="#500808"/>
<rect x="100.88" y="470.22" width="5.18" height="20.73" fill="#600808"/>
<rect x="105.81" y="470.22" width="5.18" height="20.73" fill="#b01515"/>
<rect x="110.74" y="470.22" width="5.18" height="20.73" fill="#100508"/>
<rect x="115.67" y="470.22" width="5.18" height="20.73" fill="#e82010"/>
<rect x="123.30" y="388.30" width="5.33" height="20.73" fill="#3530a0"/>
<rect x="128.38" y="388.30" width="5.33" height="20.73" fill="#200508"/>
<rect x="133.45" y="388.30" width="5.33" height="20.73" fill="#500808"/>
<rect x="138.53" y="388.30" width="5.33" height="20.73" fill="#20206a"/>
<rect x="143.60" y="388.30" width="5.33" height="20.73" fill="#700a0a"/>
<rect x="148.68" y="388.30" width="5.33" height="20.73" fill="#250508"/>
<rect x="153.75" y="388.30" width="5.33" height="20.73" fill="#0a0a30"/>
<rect x="158.82" y="388.30" width="5.33" height="20.73" fill="#f02010"/>
<rect x="123.30" y="408.78" width="5.33" height="20.73" fill="#700a0a"/>
<rect x="128.38" y="408.78" width="5.33" height="20.73" fill="#0a0505"/>
<rect x="133.45" y="408.78" width="5.33" height="20.73" fill="#300508"/>
<rect x="138.53" y="408.78" width="5.33" height="20.73" fill="#3530a0"/>
<rect x="143.60" y="408.78" width="5.33" height="20.73" fill="#0a0505"/>
<rect x="148.68" y="408.78" width="5.33" height="20.73" fill="#600808"/>
<rect x="153.75" y="408.78" width="5.33" height="20.73" fill="#3530a0"/>
<rect x="158.82" y="408.78" width="5.33" height="20.73" fill="#3535a8"/>
<rect x="123.30" y="429.26" width="5.33" height="20.73" fill="#3530a0"/>
<rect x="128.38" y="429.26" width="5.33" height="20.73" fill="#900a10"/>
<rect x="133.45" y="429.26" width="5.33" height="20.73" fill="#a01010"/>
<rect x="138.53" y="429.26" width="5.33" height="20.73" fill="#0a0a30"/>
<rect x="143.60" y="429.26" width="5.33" height="20.73" fill="#800a10"/>
<rect x="148.68" y="429.26" width="5.33" height="20.73" fill="#0a0a30"/>
<rect x="153.75" y="429.26" width="5.33" height="20.73" fill="#151550"/>
<rect x="158.82" y="429.26" width="5.33" height="20.73" fill="#800a10"/>
<rect x="123.30" y="449.74" width="5.33" height="20.73" fill="#3a35a8"/>
<rect x="128.38" y="449.74" width="5.33" height="20.73" fill="#200508"/>
<rect x="133.45" y="449.74" width="5.33" height="20.73" fill="#500808"/>
<rect x="138.53" y="449.74" width="5.33" height="20.73" fill="#4035a8"/>
<rect x="143.60" y="449.74" width="5.33" height="20.73" fill="#3535a8"/>
<rect x="148.68" y="449.74" width="5.33" height="20.73" fill="#0a0a30"/>
<rect x="153.75" y="449.74" width="5.33" height="20.73" fill="#3530a0"/>
<rect x="158.82" y="449.74" width="5.33" height="20.73" fill="#e82010"/>
<rect x="123.30" y="470.22" width="5.33" height="20.73" fill="#600808"/>
<rect x="128.38" y="470.22" width="5.33" height="20.73" fill="#20206a"/>
<rect x="133.45" y="470.22" width="5.33" height="20.73" fill="#700a0a"/>
<rect x="138.53" y="470.22" width="5.33" height="20.73" fill="#252575"/>
<rect x="143.60" y="470.22" width="5.33" height="20.73" fill="#0a0505"/>
<rect x="148.68" y="470.22" width="5.33" height="20.73" fill="#500808"/>
<rect x="153.75" y="470.22" width="5.33" height="20.73" fill="#0a0a30"/>
<rect x="158.82" y="470.22" width="5.33" height="20.73" fill="#3530a0"/>
<rect x="166.30" y="388.30" width="5.34" height="20.73" fill="#151550"/>
<rect x="171.39" y="388.30" width="5.34" height="20.73" fill="#2a2888"/>
<rect x="176.47" y="388.30" width="5.34" height="20.73" fill="#2a2a90"/>
<rect x="181.56" y="388.30" width="5.34" height="20.73" fill="#0a0a30"/>
<rect x="186.64" y="388.30" width="5.34" height="20.73" fill="#080820"/>
<rect x="191.73" y="388.30" width="5.34" height="20.73" fill="#20206a"/>
<rect x="196.81" y="388.30" width="5.34" height="20.73" fill="#151550"/>
<rect x="166.30" y="408.78" width="5.34" height="20.73" fill="#e82010"/>
<rect x="171.39" y="408.78" width="5.34" height="20.73" fill="#f02010"/>
<rect x="176.47" y="408.78" width="5.34" height="20.73" fill="#3530a0"/>
<rect x="181.56" y="408.78" width="5.34" height="20.73" fill="#d01510"/>
<rect x="186.64" y="408.78" width="5.34" height="20.73" fill="#c01510"/>
<rect x="191.73" y="408.78" width="5.34" height="20.73" fill="#b01510"/>
<rect x="196.81" y="408.78" width="5.34" height="20.73" fill="#050505"/>
<rect x="166.30" y="429.26" width="5.34" height="20.73" fill="#d01510"/>
<rect x="171.39" y="429.26" width="5.34" height="20.73" fill="#3530a0"/>
<rect x="176.47" y="429.26" width="5.34" height="20.73" fill="#2a2888"/>
<rect x="181.56" y="429.26" width="5.34" height="20.73" fill="#3530a0"/>
<rect x="186.64" y="429.26" width="5.34" height="20.73" fill="#3530a0"/>
<rect x="191.73" y="429.26" width="5.34" height="20.73" fill="#20206a"/>
<rect x="196.81" y="429.26" width="5.34" height="20.73" fill="#b01515"/>
<rect x="166.30" y="449.74" width="5.34" height="20.73" fill="#080505"/>
<rect x="171.39" y="449.74" width="5.34" height="20.73" fill="#20206a"/>
<rect x="176.47" y="449.74" width="5.34" height="20.73" fill="#200508"/>
<rect x="181.56" y="449.74" width="5.34" height="20.73" fill="#600810"/>
<rect x="186.64" y="449.74" width="5.34" height="20.73" fill="#080505"/>
<rect x="191.73" y="449.74" width="5.34" height="20.73" fill="#151550"/>
<rect x="196.81" y="449.74" width="5.34" height="20.73" fill="#250508"/>
<rect x="166.30" y="470.22" width="5.34" height="20.73" fill="#400808"/>
<rect x="171.39" y="470.22" width="5.34" height="20.73" fill="#252575"/>
<rect x="176.47" y="470.22" width="5.34" height="20.73" fill="#151550"/>
<rect x="181.56" y="470.22" width="5.34" height="20.73" fill="#700a0a"/>
<rect x="186.64" y="470.22" width="5.34" height="20.73" fill="#800a10"/>
<rect x="191.73" y="470.22" width="5.34" height="20.73" fill="#700a0a"/>
<rect x="196.81" y="470.22" width="5.34" height="20.73" fill="#700a0a"/>
<text x="86.90" y="366.80" font-size="8.8" fill="#1a1a1a" text-anchor="start" textLength="46.40" lengthAdjust="spacingAndGlyphs" >CD4<tspan font-size="5.8" dy="-3.6">+</tspan><tspan dy="3.6">T cell</tspan></text>
<line x1="19" y1="371.8" x2="201.8" y2="371.8" stroke="#1a1a1a" stroke-width="1.1"/>
<rect x="19" y="375.6" width="49.75" height="8.9" fill="#e3141a"/>
<text x="43.88" y="383.10" font-size="8.0" fill="#fff" text-anchor="middle" textLength="29.60" lengthAdjust="spacingAndGlyphs" >Adverse</text>
<rect x="71.7" y="375.6" width="49.00" height="8.9" fill="#b0509a"/>
<text x="96.20" y="383.10" font-size="8.0" fill="#fff" text-anchor="middle" textLength="47.20" lengthAdjust="spacingAndGlyphs" >Intermediate</text>
<rect x="122.9" y="375.6" width="41.20" height="8.9" fill="#1f9a45"/>
<text x="143.50" y="383.10" font-size="8.0" fill="#fff" text-anchor="middle" textLength="35.10" lengthAdjust="spacingAndGlyphs" >Favorable</text>
<rect x="166.5" y="375.6" width="35.30" height="8.9" fill="#3b2d98"/>
<text x="184.15" y="383.10" font-size="8.0" fill="#fff" text-anchor="middle" textLength="13.10" lengthAdjust="spacingAndGlyphs" >Ctrl</text>
<text x="232.40" y="401.14" font-size="8.0" fill="#1a1a1a" text-anchor="end" font-style="italic" textLength="27.80" lengthAdjust="spacingAndGlyphs" >KMT2A</text>
<text x="237.10" y="400.94" font-size="7.6" fill="#1a1a1a" text-anchor="start" textLength="34.00" lengthAdjust="spacingAndGlyphs" >(<tspan font-style="italic">P</tspan> &lt; .001)</text>
<text x="232.40" y="421.62" font-size="8.0" fill="#1a1a1a" text-anchor="end" font-style="italic" textLength="27.80" lengthAdjust="spacingAndGlyphs" >KMT2B</text>
<text x="237.10" y="421.42" font-size="7.6" fill="#1a1a1a" text-anchor="start" textLength="34.00" lengthAdjust="spacingAndGlyphs" >(<tspan font-style="italic">P</tspan> = .081)</text>
<text x="232.40" y="442.10" font-size="8.0" fill="#1a1a1a" text-anchor="end" font-style="italic" textLength="27.80" lengthAdjust="spacingAndGlyphs" >KMT2C</text>
<text x="237.10" y="441.90" font-size="7.6" fill="#1a1a1a" text-anchor="start" textLength="34.00" lengthAdjust="spacingAndGlyphs" >(<tspan font-style="italic">P</tspan> &lt; .001)</text>
<text x="232.40" y="462.58" font-size="8.0" fill="#1a1a1a" text-anchor="end" font-style="italic" textLength="27.80" lengthAdjust="spacingAndGlyphs" >KMT2D</text>
<text x="237.10" y="462.38" font-size="7.6" fill="#1a1a1a" text-anchor="start" textLength="34.00" lengthAdjust="spacingAndGlyphs" >(<tspan font-style="italic">P</tspan> = .771)</text>
<text x="232.40" y="483.06" font-size="8.0" fill="#1a1a1a" text-anchor="end" font-style="italic" textLength="27.80" lengthAdjust="spacingAndGlyphs" >KMT2E</text>
<text x="237.10" y="482.86" font-size="7.6" fill="#1a1a1a" text-anchor="start" textLength="34.00" lengthAdjust="spacingAndGlyphs" >(<tspan font-style="italic">P</tspan> = .654)</text>
<rect x="235.4" y="388.7" width="37.1" height="101.9" fill="none" stroke="#555" stroke-width="0.8"/>
<text x="254.10" y="383.50" font-size="7.4" fill="#1a1a1a" text-anchor="middle" textLength="43.20" lengthAdjust="spacingAndGlyphs" >AML vs. Ctrl</text>
<defs><linearGradient id="gd" x1="0" x2="1"><stop offset="0" stop-color="#3a2aa0"/><stop offset="0.35" stop-color="#3528a0"/><stop offset="0.5" stop-color="#050308"/><stop offset="0.7" stop-color="#a01010"/><stop offset="1" stop-color="#ff2010"/></linearGradient></defs>
<rect x="149" y="497.1" width="52.5" height="6.4" fill="url(#gd)"/>
<text x="151.00" y="513.60" font-size="8.2" fill="#2a2a2a" text-anchor="middle" >&#8722;2</text>
<text x="175.80" y="513.60" font-size="8.2" fill="#2a2a2a" text-anchor="middle" >0</text>
<text x="199.70" y="513.60" font-size="8.2" fill="#2a2a2a" text-anchor="middle" >2</text>
<circle cx="370.73" cy="382.53" r="13.6" fill="#0e376c"/>
<text x="370.73" y="385.53" font-size="8.4" fill="#dfe5ef" text-anchor="middle" >1</text>
<circle cx="370.73" cy="412.98" r="6.60" fill="#bac2ce"/>
<text x="370.73" y="415.08" font-size="6.0" fill="#333" text-anchor="middle" textLength="11.60" lengthAdjust="spacingAndGlyphs" >0.34</text>
<circle cx="401.18" cy="412.98" r="13.6" fill="#0e376c"/>
<text x="401.18" y="415.98" font-size="8.4" fill="#dfe5ef" text-anchor="middle" >1</text>
<circle cx="370.73" cy="443.43" r="9.30" fill="#9aa6bc"/>
<text x="370.73" y="445.53" font-size="6.0" fill="#333" text-anchor="middle" textLength="11.60" lengthAdjust="spacingAndGlyphs" >0.54</text>
<circle cx="401.18" cy="443.43" r="3.00" fill="#f3f2f7"/>
<text x="401.18" y="445.53" font-size="6.0" fill="#333" text-anchor="middle" >&#8211;0.1</text>
<circle cx="431.62" cy="443.43" r="13.6" fill="#0e376c"/>
<text x="431.62" y="446.43" font-size="8.4" fill="#dfe5ef" text-anchor="middle" >1</text>
<circle cx="370.73" cy="473.88" r="6.30" fill="#c4cad6"/>
<text x="370.73" y="475.98" font-size="6.0" fill="#333" text-anchor="middle" textLength="11.60" lengthAdjust="spacingAndGlyphs" >0.36</text>
<circle cx="401.18" cy="473.88" r="3.00" fill="#f0f1f4"/>
<text x="401.18" y="475.98" font-size="6.0" fill="#333" text-anchor="middle" >0.1</text>
<circle cx="431.62" cy="473.88" r="5.50" fill="#d4d8e2"/>
<text x="431.62" y="475.98" font-size="6.0" fill="#333" text-anchor="middle" textLength="11.60" lengthAdjust="spacingAndGlyphs" >0.27</text>
<circle cx="462.07" cy="473.88" r="13.6" fill="#0e376c"/>
<text x="462.07" y="476.88" font-size="8.4" fill="#dfe5ef" text-anchor="middle" >1</text>
<circle cx="370.73" cy="504.33" r="5.10" fill="#dcdfe6"/>
<text x="370.73" y="506.43" font-size="6.0" fill="#333" text-anchor="middle" textLength="11.60" lengthAdjust="spacingAndGlyphs" >0.22</text>
<circle cx="401.18" cy="504.33" r="5.30" fill="#d8dce4"/>
<text x="401.18" y="506.43" font-size="6.0" fill="#333" text-anchor="middle" textLength="11.60" lengthAdjust="spacingAndGlyphs" >0.25</text>
<circle cx="431.62" cy="504.33" r="4.60" fill="#e2e5eb"/>
<text x="431.62" y="506.43" font-size="6.0" fill="#333" text-anchor="middle" textLength="11.60" lengthAdjust="spacingAndGlyphs" >0.19</text>
<circle cx="462.07" cy="504.33" r="3.80" fill="#eaecf0"/>
<text x="462.07" y="506.43" font-size="6.0" fill="#333" text-anchor="middle" textLength="11.60" lengthAdjust="spacingAndGlyphs" >0.14</text>
<circle cx="492.52" cy="504.33" r="13.6" fill="#0e376c"/>
<text x="492.52" y="507.33" font-size="8.4" fill="#dfe5ef" text-anchor="middle" >1</text>
<rect x="355.50" y="367.30" width="30.45" height="30.45" fill="none" stroke="#4a4a4a" stroke-width="0.9"/>
<rect x="355.50" y="397.75" width="30.45" height="30.45" fill="none" stroke="#4a4a4a" stroke-width="0.9"/>
<rect x="385.95" y="397.75" width="30.45" height="30.45" fill="none" stroke="#4a4a4a" stroke-width="0.9"/>
<rect x="355.50" y="428.20" width="30.45" height="30.45" fill="none" stroke="#4a4a4a" stroke-width="0.9"/>
<rect x="385.95" y="428.20" width="30.45" height="30.45" fill="none" stroke="#4a4a4a" stroke-width="0.9"/>
<rect x="416.40" y="428.20" width="30.45" height="30.45" fill="none" stroke="#4a4a4a" stroke-width="0.9"/>
<rect x="355.50" y="458.65" width="30.45" height="30.45" fill="none" stroke="#4a4a4a" stroke-width="0.9"/>
<rect x="385.95" y="458.65" width="30.45" height="30.45" fill="none" stroke="#4a4a4a" stroke-width="0.9"/>
<rect x="416.40" y="458.65" width="30.45" height="30.45" fill="none" stroke="#4a4a4a" stroke-width="0.9"/>
<rect x="446.85" y="458.65" width="30.45" height="30.45" fill="none" stroke="#4a4a4a" stroke-width="0.9"/>
<rect x="355.50" y="489.10" width="30.45" height="30.45" fill="none" stroke="#4a4a4a" stroke-width="0.9"/>
<rect x="385.95" y="489.10" width="30.45" height="30.45" fill="none" stroke="#4a4a4a" stroke-width="0.9"/>
<rect x="416.40" y="489.10" width="30.45" height="30.45" fill="none" stroke="#4a4a4a" stroke-width="0.9"/>
<rect x="446.85" y="489.10" width="30.45" height="30.45" fill="none" stroke="#4a4a4a" stroke-width="0.9"/>
<rect x="477.30" y="489.10" width="30.45" height="30.45" fill="none" stroke="#4a4a4a" stroke-width="0.9"/>
<rect x="355.50" y="428.20" width="30.45" height="30.45" fill="none" stroke="#c41f38" stroke-width="1.7"/>
<text x="352.50" y="385.53" font-size="8.2" fill="#1a1a1a" text-anchor="end" font-style="italic" textLength="26.40" lengthAdjust="spacingAndGlyphs" >KMT2A</text>
<text x="370.73" y="362.30" font-size="8.2" fill="#1a1a1a" text-anchor="middle" font-style="italic" textLength="26.40" lengthAdjust="spacingAndGlyphs" >KMT2A</text>
<text x="352.50" y="415.98" font-size="8.2" fill="#1a1a1a" text-anchor="end" font-style="italic" textLength="26.40" lengthAdjust="spacingAndGlyphs" >KMT2B</text>
<text x="401.18" y="392.75" font-size="8.2" fill="#1a1a1a" text-anchor="middle" font-style="italic" textLength="26.40" lengthAdjust="spacingAndGlyphs" >KMT2B</text>
<text x="352.50" y="446.43" font-size="8.2" fill="#1a1a1a" text-anchor="end" font-style="italic" textLength="26.40" lengthAdjust="spacingAndGlyphs" >KMT2C</text>
<text x="431.62" y="423.20" font-size="8.2" fill="#1a1a1a" text-anchor="middle" font-style="italic" textLength="26.40" lengthAdjust="spacingAndGlyphs" >KMT2C</text>
<text x="352.50" y="476.88" font-size="8.2" fill="#1a1a1a" text-anchor="end" font-style="italic" textLength="26.40" lengthAdjust="spacingAndGlyphs" >KMT2D</text>
<text x="462.07" y="453.65" font-size="8.2" fill="#1a1a1a" text-anchor="middle" font-style="italic" textLength="26.40" lengthAdjust="spacingAndGlyphs" >KMT2D</text>
<text x="352.50" y="507.33" font-size="8.2" fill="#1a1a1a" text-anchor="end" font-style="italic" textLength="26.40" lengthAdjust="spacingAndGlyphs" >KMT2E</text>
<text x="492.52" y="484.10" font-size="8.2" fill="#1a1a1a" text-anchor="middle" font-style="italic" textLength="26.40" lengthAdjust="spacingAndGlyphs" >KMT2E</text>
<line x1="319.2" y1="369.6" x2="319.2" y2="519" stroke="#555" stroke-width="1.3"/>
<text transform="translate(314.2,443.6) rotate(-90)" font-size="8.4" fill="#222" text-anchor="middle" textLength="53" lengthAdjust="spacingAndGlyphs">AML CD4<tspan font-size="5.5" dy="-3">+</tspan><tspan dy="3">T cell</tspan></text>
<defs><linearGradient id="ge" x1="0" x2="1"><stop offset="0.000" stop-color="#1e1a6a"/><stop offset="0.050" stop-color="#342e7d"/><stop offset="0.100" stop-color="#4a4290"/><stop offset="0.150" stop-color="#6861a2"/><stop offset="0.200" stop-color="#8580b4"/><stop offset="0.250" stop-color="#9e9ac4"/><stop offset="0.300" stop-color="#b8b4d4"/><stop offset="0.350" stop-color="#cfcce2"/><stop offset="0.400" stop-color="#e6e4f0"/><stop offset="0.450" stop-color="#f2f2f8"/><stop offset="0.500" stop-color="#ffffff"/><stop offset="0.550" stop-color="#eff1f5"/><stop offset="0.600" stop-color="#dfe3eb"/><stop offset="0.650" stop-color="#cad2de"/><stop offset="0.700" stop-color="#b6c0d2"/><stop offset="0.750" stop-color="#9aa8c1"/><stop offset="0.800" stop-color="#7e8fb0"/><stop offset="0.850" stop-color="#5d7399"/><stop offset="0.900" stop-color="#3c5782"/><stop offset="0.950" stop-color="#24416e"/><stop offset="1.000" stop-color="#0c2c5a"/></linearGradient></defs>
<rect x="325.2" y="525.2" width="181.8" height="6" fill="url(#ge)"/>
<line x1="325.20" y1="530" x2="325.20" y2="533.5" stroke="#444" stroke-width="0.8"/>
<text x="325.20" y="544.20" font-size="8.2" fill="#2a2a2a" text-anchor="middle" >&#8722;1</text>
<line x1="343.38" y1="530" x2="343.38" y2="533.5" stroke="#444" stroke-width="0.8"/>
<text x="343.38" y="544.20" font-size="8.2" fill="#2a2a2a" text-anchor="middle" >&#8722;0.8</text>
<line x1="361.56" y1="530" x2="361.56" y2="533.5" stroke="#444" stroke-width="0.8"/>
<text x="361.56" y="544.20" font-size="8.2" fill="#2a2a2a" text-anchor="middle" >&#8722;0.6</text>
<line x1="379.74" y1="530" x2="379.74" y2="533.5" stroke="#444" stroke-width="0.8"/>
<text x="379.74" y="544.20" font-size="8.2" fill="#2a2a2a" text-anchor="middle" >&#8722;0.4</text>
<line x1="397.92" y1="530" x2="397.92" y2="533.5" stroke="#444" stroke-width="0.8"/>
<text x="397.92" y="544.20" font-size="8.2" fill="#2a2a2a" text-anchor="middle" >&#8722;0.2</text>
<line x1="416.10" y1="530" x2="416.10" y2="533.5" stroke="#444" stroke-width="0.8"/>
<text x="416.10" y="544.20" font-size="8.2" fill="#2a2a2a" text-anchor="middle" >0</text>
<line x1="434.28" y1="530" x2="434.28" y2="533.5" stroke="#444" stroke-width="0.8"/>
<text x="434.28" y="544.20" font-size="8.2" fill="#2a2a2a" text-anchor="middle" >0.2</text>
<line x1="452.46" y1="530" x2="452.46" y2="533.5" stroke="#444" stroke-width="0.8"/>
<text x="452.46" y="544.20" font-size="8.2" fill="#2a2a2a" text-anchor="middle" >0.4</text>
<line x1="470.64" y1="530" x2="470.64" y2="533.5" stroke="#444" stroke-width="0.8"/>
<text x="470.64" y="544.20" font-size="8.2" fill="#2a2a2a" text-anchor="middle" >0.6</text>
<line x1="488.82" y1="530" x2="488.82" y2="533.5" stroke="#444" stroke-width="0.8"/>
<text x="488.82" y="544.20" font-size="8.2" fill="#2a2a2a" text-anchor="middle" >0.8</text>
<line x1="507.00" y1="530" x2="507.00" y2="533.5" stroke="#444" stroke-width="0.8"/>
<text x="507.00" y="544.20" font-size="8.2" fill="#2a2a2a" text-anchor="middle" >1</text>
<text x="415.50" y="557.30" font-size="8.2" fill="#2a2a2a" text-anchor="middle" textLength="74.50" lengthAdjust="spacingAndGlyphs" >Correlation coefficient</text></svg></body></html>
